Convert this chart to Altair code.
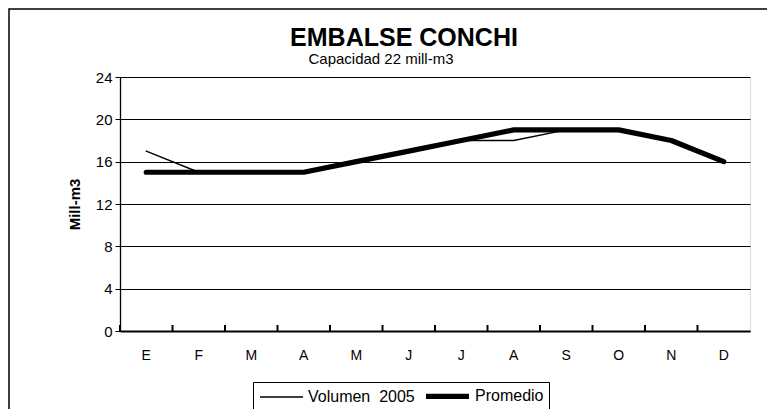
import altair as alt
import pandas as pd

meses = ["E", "F", "M", "A", "M", "J", "J", "A", "S", "O", "N", "D"]
volumen_2005 = [17, 15, 15, 15, 16, 17, 18, 18, 19, 19, 18, 16]
promedio = [15, 15, 15, 15, 16, 17, 18, 19, 19, 19, 18, 16]
series = ["Volumen 2005", "Promedio"]
y_ticks = [0, 4, 8, 12, 16, 20, 24]

FONT = "Liberation Sans"
W, H = 630, 254

rows = []
for i in range(len(meses)):
    rows.append({"idx": i, "serie": series[0], "valor": volumen_2005[i], "orden": 0})
for i in range(len(meses)):
    rows.append({"idx": i, "serie": series[1], "valor": promedio[i], "orden": 1})
df = pd.DataFrame(rows)

label_expr = "[" + ",".join("'%s'" % m for m in meses) + "][datum.value]"

xscale = alt.Scale(type="band", paddingInner=0, paddingOuter=0)

lines = alt.Chart(df).mark_line(strokeCap="round", strokeJoin="round").encode(
    x=alt.X("idx:O", scale=xscale, bandPosition=0.5,
            axis=alt.Axis(title=None, labelExpr=label_expr, labelAngle=0, ticks=False,
                          labelFont=FONT, labelFontSize=14, labelColor="black",
                          labelPadding=17, domainColor="black", domainWidth=2)),
    y=alt.Y("valor:Q", scale=alt.Scale(domain=[0, 24], nice=False),
            axis=alt.Axis(title="Mill-m3", values=y_ticks, grid=True, gridColor="black",
                          gridWidth=1, tickColor="black", tickSize=5, labelFont=FONT,
                          labelFontSize=15, labelColor="black", labelPadding=3,
                          domainColor="black", domainWidth=1.3, titleFont=FONT,
                          titleFontSize=15, titleFontWeight="bold", titleColor="black",
                          titleX=-41, titleBaseline="alphabetic")),
    color=alt.Color("serie:N", scale=alt.Scale(domain=series, range=["black", "black"]),
                    legend=alt.Legend(title=None, orient="none", legendX=133, legendY=305,
                                      direction="horizontal", symbolType="M-1,0H6.17",
                                      symbolSize=144, labelFont=FONT, labelFontSize=16,
                                      labelColor="black", labelOffset=34, columnPadding=0,
                                      padding=5, strokeColor="black", fillColor="white",
                                      labelExpr="datum.label == 'Volumen 2005' ? 'Volumen\u00a0\u00a02005' : datum.label")),
    strokeWidth=alt.StrokeWidth("serie:N", scale=alt.Scale(domain=series, range=[1.4, 5.2])),
    order=alt.Order("orden:Q"),
)

ticks_df = pd.DataFrame({"idx": list(range(len(meses)))})
x_ticks = alt.Chart(ticks_df).mark_rule(color="black", strokeWidth=2).encode(
    x=alt.X("idx:O", scale=xscale, bandPosition=0),
    y=alt.value(H - 6),
    y2=alt.value(H),
)

one = alt.Data(values=[{"t": 1}])
frame = alt.Chart(one).mark_rect(fill=None, stroke="black", strokeWidth=1.5, clip=False).encode(
    x=alt.value(-111), x2=alt.value(700), y=alt.value(-68), y2=alt.value(400)
)
title = alt.Chart(one).mark_text(font=FONT, fontSize=25, fontWeight="bold", color="black",
                                 align="center", baseline="alphabetic").encode(
    x=alt.value(284), y=alt.value(-31), text=alt.value("EMBALSE CONCHI"))
subtitle = alt.Chart(one).mark_text(font=FONT, fontSize=15, color="black",
                                    align="center", baseline="alphabetic").encode(
    x=alt.value(261), y=alt.value(-13), text=alt.value("Capacidad 22 mill-m3"))

chart = alt.layer(frame, lines, x_ticks, title, subtitle).properties(
    width=W, height=H,
    autosize=alt.AutoSizeParams(type="none"),
    padding={"left": 112, "top": 69, "right": 17, "bottom": 78},
).configure_view(stroke="black", strokeWidth=1).configure(background="white")

chart.save("out.html", embed_options={"renderer": "svg", "actions": False})
